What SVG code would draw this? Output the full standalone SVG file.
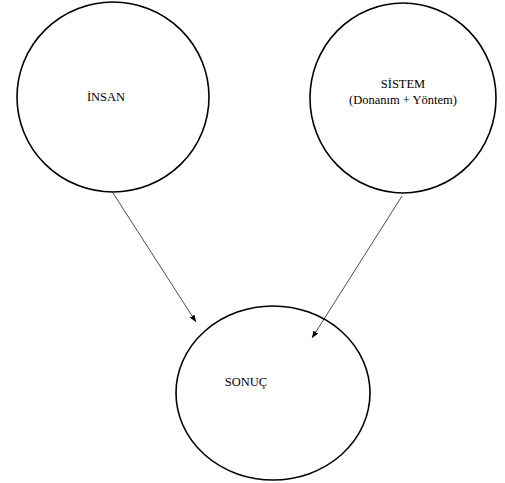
<svg xmlns="http://www.w3.org/2000/svg" width="505" height="483" viewBox="0 0 505 483">
<style>
.n{fill:none;stroke:#000;stroke-width:1.6}
.t{font-family:"Liberation Serif",serif;font-size:12.5px;fill:#000;text-anchor:middle}
.c{stroke:#000;stroke-width:0.7;fill:none;marker-end:url(#ah)}
</style>
<defs>
<marker id="ah" viewBox="0 0 10 10" refX="10" refY="5" markerWidth="7" markerHeight="7" orient="auto" markerUnits="userSpaceOnUse">
<path d="M0,1 L10,5 L0,9 z" fill="#000"/>
</marker>
</defs>
<rect width="505" height="483" fill="#fff"/>
<g id="insan">
<ellipse class="n" cx="113" cy="97" rx="96" ry="95"/>
<text class="t" x="106" y="101">İNSAN</text>
</g>
<g id="sistem">
<ellipse class="n" cx="403" cy="98" rx="93" ry="95"/>
<text class="t" x="403" y="88">SİSTEM</text>
<text class="t" x="403" y="104">(Donanım + Yöntem)</text>
</g>
<g id="sonuc">
<ellipse class="n" cx="273" cy="393" rx="97" ry="87"/>
<text class="t" x="246" y="386">SONUÇ</text>
</g>
<g id="connectors">
<line class="c" x1="113" y1="193" x2="196" y2="322"/>
<line class="c" x1="402" y1="196" x2="312" y2="338"/>
</g>
</svg>
